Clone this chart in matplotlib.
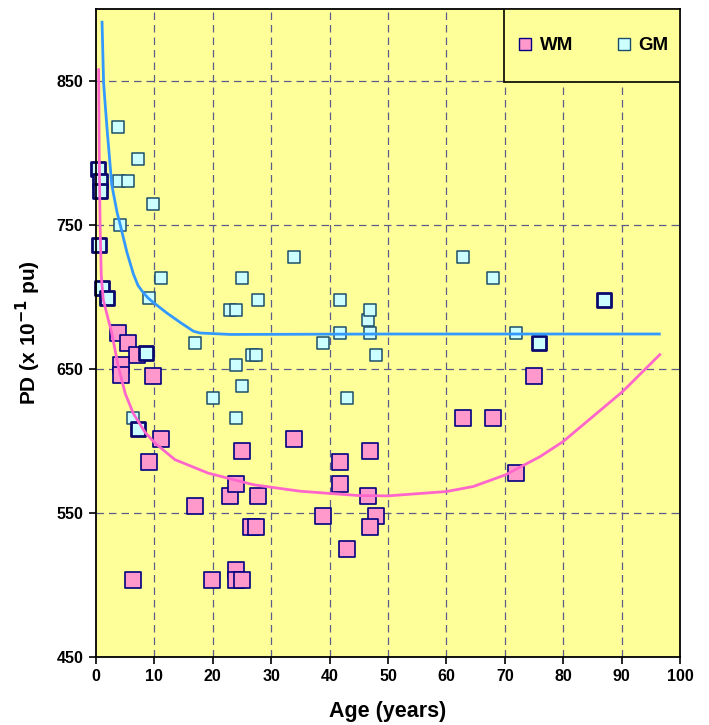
import matplotlib
matplotlib.use("Agg")
import matplotlib.pyplot as plt
from matplotlib.patches import Rectangle
from matplotlib.lines import Line2D
import numpy as np

plt.rcParams['font.family'] = ['Liberation Sans', 'DejaVu Sans']

# ---- data ----
wm_age = [3.8, 5.4, 7.1, 4.2, 4.2, 9.8, 11.2, 9.0, 6.3, 19.9, 24.0, 24.0, 25.0,
          16.9, 23.0, 24.0, 27.8, 25.0, 33.9, 26.5, 27.4, 38.9, 41.8, 41.8, 43.0,
          46.9, 46.5, 47.9, 46.9, 75.0, 62.8, 67.9, 72.0]
wm_pd = [675, 668, 660, 653, 646, 645, 601, 585, 503, 503, 510, 503, 503,
         555, 562, 570, 562, 593, 601, 540, 540, 548, 585, 570, 525,
         593, 562, 548, 540, 645, 616, 616, 578]

gm_age = [0.3, 0.6, 0.6, 0.5, 1.0, 1.8, 3.8, 7.2, 3.9, 5.4, 9.8, 4.1, 11.2, 9.0,
          8.6, 6.3, 7.2, 16.9, 20.0, 23.0, 24.0, 24.0, 24.0, 25.0, 25.0, 26.7,
          27.4, 27.8, 33.9, 38.9, 41.8, 41.8, 43.0, 46.5, 46.9, 46.9, 47.9,
          62.8, 67.9, 72.0, 75.8, 87.0]
gm_pd = [789, 781, 774, 736, 706, 699, 818, 796, 781, 781, 765, 750, 713, 699,
         661, 616, 608, 668, 630, 691, 691, 653, 616, 713, 638, 660,
         660, 698, 728, 668, 698, 675, 630, 684, 691, 675, 660,
         728, 713, 675, 668, 698]
# number of subjects sharing the same point (overlapping markers)
gm_count = [2, 2, 2, 2, 2, 2, 1, 1, 1, 1, 1, 1, 1, 1,
            2, 1, 2, 1, 1, 1, 1, 1, 1, 1, 1, 1,
            1, 1, 1, 1, 1, 1, 1, 1, 1, 1, 1,
            1, 1, 1, 2, 2]

# trend lines
gm_fit_age = [1.03, 1.3, 1.55, 1.95, 2.7, 3.6, 4.16, 5.3, 6.4, 7.2, 8.1, 9.0, 9.9,
              12.1, 14.4, 16.7, 17.8, 23.0, 50.0, 96.7]
gm_fit_pd = [892, 849, 835, 814, 778, 759, 750, 731, 716, 708, 703, 699, 696,
             689, 682.4, 676.2, 675, 674, 674.3, 674.3]

wm_fit_age = [0.45, 0.55, 0.7, 0.9, 1.25, 2.0, 2.7, 3.8, 5.0, 6.4, 8.4, 10.1,
              13.5, 19.2, 27.0, 35.0, 45.0, 50.0, 60.0, 64.6, 70.1, 76.0, 80.0,
              85.1, 90.2, 96.7]
wm_fit_pd = [859, 800, 750, 715, 698, 686, 675, 652, 633, 619, 606, 598.5,
             587, 577.6, 569.5, 565, 562, 561.8, 564.8, 568.3, 576.4, 589,
             599.6, 617, 634.4, 660.6]

x_ticks = [0, 10, 20, 30, 40, 50, 60, 70, 80, 90, 100]
y_ticks = [450, 550, 650, 750, 850]

# ---- figure ----
fig = plt.figure(figsize=(7.09, 7.25), dpi=100)
ax = fig.add_axes([96/709, 1 - 656.7/725, (680 - 96)/709, (656.7 - 9.3)/725])
ax.set_facecolor('#FFFF99')
ax.set_xlim(0, 100)
ax.set_ylim(450, 900)

grid_kw = dict(color='#5c5c8a', lw=0.9, ls=(0, (6, 4)), zorder=0.5)
for xv in x_ticks[1:-1]:
    ax.axvline(xv, **grid_kw)
for yv in y_ticks[1:]:
    ax.axhline(yv, **grid_kw)

wm_color = '#FF99CC'
gm_color = '#CCFFFF'

ax.scatter(wm_age, wm_pd, marker='s', s=120, facecolor=wm_color,
           edgecolor='#000080', linewidth=1.2, zorder=2, clip_on=False)

gm_age = np.array(gm_age); gm_pd = np.array(gm_pd); gm_count = np.array(gm_count)
single = gm_count == 1
ax.scatter(gm_age[single], gm_pd[single], marker='s', s=85, facecolor=gm_color,
           edgecolor='#1d4e6b', linewidth=1.1, zorder=2.1, clip_on=False)
ax.scatter(gm_age[~single], gm_pd[~single], marker='s', s=110, facecolor=gm_color,
           edgecolor='#0a0a6e', linewidth=2.0, zorder=2.2, clip_on=False)

ax.plot(wm_fit_age, wm_fit_pd, color='#FF66CC', lw=2.0, zorder=3,
        solid_capstyle='butt', solid_joinstyle='round')
ax.plot(gm_fit_age, gm_fit_pd, color='#3399FF', lw=2.0, zorder=3,
        solid_capstyle='butt', solid_joinstyle='round')

ax.set_xticks(x_ticks)
ax.set_yticks(y_ticks)
ax.tick_params(axis='both', direction='out', length=5, width=1.2,
               labelsize=11.5, pad=4)
for lab in ax.get_xticklabels() + ax.get_yticklabels():
    lab.set_fontweight('bold')
for sp in ax.spines.values():
    sp.set_linewidth(1.3)
    sp.set_color('black')

ax.set_xlabel('Age (years)', fontsize=15.5, fontweight='bold', labelpad=12)
ax.set_ylabel(r'PD (x 10$^{\mathbf{-1}}$ pu)', fontsize=15, fontweight='bold',
              labelpad=10)

# legend box
rx0 = (504 - 96) / 584
ry0 = (656.7 - 82) / 647.4
ax.add_patch(Rectangle((rx0, ry0), 1 - rx0, 1 - ry0, transform=ax.transAxes,
                       facecolor='#FFFF99', edgecolor='black', lw=1.2, zorder=4))
handles = [Line2D([], [], marker='s', ls='none', markersize=8,
                  markerfacecolor=wm_color, markeredgecolor='#000080', markeredgewidth=1),
           Line2D([], [], marker='s', ls='none', markersize=8,
                  markerfacecolor=gm_color, markeredgecolor='#1d4e6b', markeredgewidth=1)]
leg = ax.legend(handles, ['WM', 'GM'], ncol=2, frameon=False,
                loc='center', bbox_to_anchor=(rx0 + (1 - rx0) / 2, ry0 + (1 - ry0) / 2),
                bbox_transform=ax.transAxes, prop={'weight': 'bold', 'size': 13.5},
                handletextpad=0.3, columnspacing=2.2, handlelength=1.0)
leg.set_zorder(5)

fig.savefig('out.png', dpi=100)
